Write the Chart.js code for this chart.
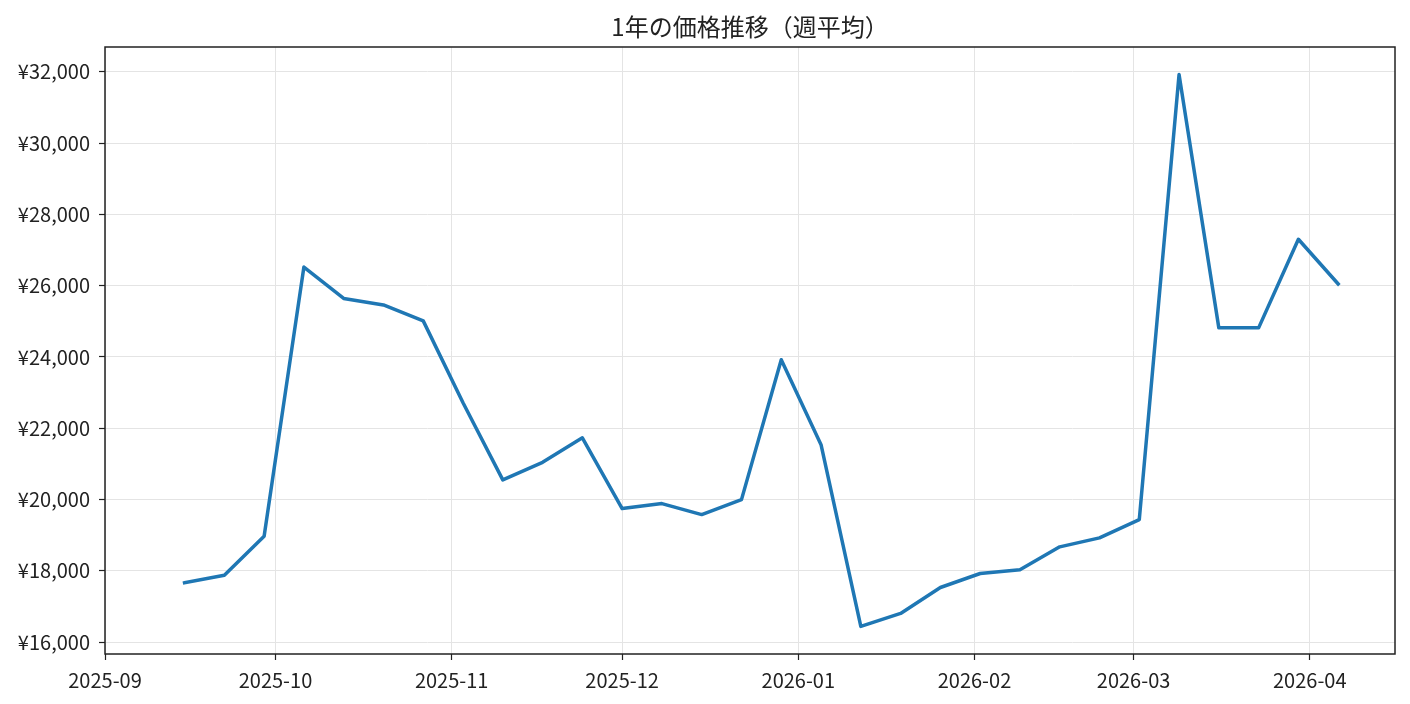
<!DOCTYPE html>
<html lang="ja">
<head>
<meta charset="utf-8">
<title>1年の価格推移（週平均）</title>
<script src="https://cdn.jsdelivr.net/npm/chart.js@4.4.1/dist/chart.umd.min.js"></script>
<style>
    html, body { margin: 0; padding: 0; background: #ffffff; }
    #wrap { width: 1410px; height: 704px; }
</style>
</head>
<body>
<div id="wrap"><canvas id="priceChart" width="1410" height="704"></canvas></div>
<script>
// 週ごとの日付（月曜日）
const weekDates = [
    '2025-09-15', '2025-09-22', '2025-09-29', '2025-10-06', '2025-10-13',
    '2025-10-20', '2025-10-27', '2025-11-03', '2025-11-10', '2025-11-17',
    '2025-11-24', '2025-12-01', '2025-12-08', '2025-12-15', '2025-12-22',
    '2025-12-29', '2026-01-05', '2026-01-12', '2026-01-19', '2026-01-26',
    '2026-02-02', '2026-02-09', '2026-02-16', '2026-02-23', '2026-03-02',
    '2026-03-09', '2026-03-16', '2026-03-23', '2026-03-30', '2026-04-06'
];

// 週平均価格（円）
const weekPrices = [
    17664, 17877, 18969, 26520, 25641,
    25459, 25011, 22714, 20550, 21042,
    21730, 19745, 19885, 19577, 19997,
    23920, 21538, 16440, 16804, 17532,
    17924, 18028, 18672, 18924, 19437,
    31920, 24815, 24815, 27300, 26048
];

// 軸の目盛り
const xTickLabels = ['2025-09', '2025-10', '2025-11', '2025-12', '2026-01', '2026-02', '2026-03', '2026-04'];
const yTickValues = [16000, 18000, 20000, 22000, 24000, 26000, 28000, 30000, 32000];

// タイトル
const chartTitle = '1年の価格推移（週平均）';

// 表示範囲（日付）
const xStart = '2025-09-01';
const xEnd = '2026-04-16';

// 日付文字列 -> 基準日からの日数
const DAY = 86400000;
const baseTime = Date.parse(xStart + 'T00:00:00Z');
function toDay(str) {
    const s = str.length === 7 ? str + '-01' : str;
    return (Date.parse(s + 'T00:00:00Z') - baseTime) / DAY;
}

const points = weekDates.map(function (d, i) {
    return { x: toDay(d), y: weekPrices[i] };
});

// 上下に5%の余白（matplotlib 風）
const yMinData = Math.min.apply(null, weekPrices);
const yMaxData = Math.max.apply(null, weekPrices);
const yPad = (yMaxData - yMinData) * 0.05;

const FONT = "'Noto Sans CJK JP', 'Noto Sans', sans-serif";
const TEXT_COLOR = '#222222';
const GRID_COLOR = '#e4e4e4';

// 枠線を四辺に描き、タイトルをプロット領域の中央に置く
const framePlugin = {
    id: 'frame',
    afterDraw: function (chart) {
        const a = chart.chartArea;
        const ctx = chart.ctx;
        ctx.save();
        ctx.strokeStyle = TEXT_COLOR;
        ctx.lineWidth = 1.5;
        ctx.strokeRect(a.left, a.top, a.right - a.left, a.bottom - a.top);

        ctx.fillStyle = TEXT_COLOR;
        ctx.font = '24px ' + FONT;
        ctx.textAlign = 'center';
        ctx.textBaseline = 'middle';
        ctx.fillText(chartTitle, (a.left + a.right) / 2, 27);
        ctx.restore();
    }
};

new Chart(document.getElementById('priceChart'), {
    type: 'line',
    data: {
        datasets: [{
            data: points,
            borderColor: '#1f77b4',
            borderWidth: 3.5,
            borderJoinStyle: 'round',
            borderCapStyle: 'square',
            pointRadius: 0,
            fill: false,
            tension: 0
        }]
    },
    options: {
        responsive: false,
        animation: false,
        layout: {
            padding: { left: 0, right: 15, top: 47, bottom: 0 }
        },
        plugins: {
            legend: { display: false },
            tooltip: { enabled: false },
            title: { display: false }
        },
        scales: {
            x: {
                type: 'linear',
                min: toDay(xStart),
                max: toDay(xEnd),
                afterBuildTicks: function (scale) {
                    scale.ticks = xTickLabels.map(function (l) { return { value: toDay(l) }; });
                },
                afterFit: function (scale) {
                    scale.height = 50;
                },
                ticks: {
                    autoSkip: false,
                    maxRotation: 0,
                    color: TEXT_COLOR,
                    padding: 8,
                    font: { family: FONT, size: 20 },
                    callback: function (value) {
                        const idx = xTickLabels.findIndex(function (l) { return toDay(l) === value; });
                        return idx >= 0 ? xTickLabels[idx] : '';
                    }
                },
                grid: {
                    color: GRID_COLOR,
                    lineWidth: 1,
                    tickLength: 6,
                    tickColor: TEXT_COLOR,
                    tickWidth: 1.2
                },
                border: { display: false }
            },
            y: {
                type: 'linear',
                min: yMinData - yPad,
                max: yMaxData + yPad,
                afterBuildTicks: function (scale) {
                    scale.ticks = yTickValues.map(function (v) { return { value: v }; });
                },
                afterFit: function (scale) {
                    scale.width = 105;
                },
                ticks: {
                    color: TEXT_COLOR,
                    padding: 9,
                    font: { family: FONT, size: 20 },
                    callback: function (value) {
                        return '¥' + value.toLocaleString('en-US');
                    }
                },
                grid: {
                    color: GRID_COLOR,
                    lineWidth: 1,
                    tickLength: 6,
                    tickColor: TEXT_COLOR,
                    tickWidth: 1.2
                },
                border: { display: false }
            }
        }
    },
    plugins: [framePlugin]
});
</script>
</body>
</html>
